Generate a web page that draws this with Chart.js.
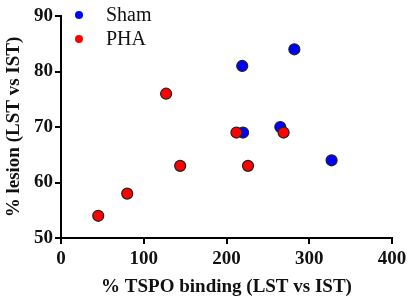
<!DOCTYPE html>
<html>
<head>
<meta charset="utf-8">
<script src="https://cdn.jsdelivr.net/npm/chart.js@4.4.1/dist/chart.umd.min.js"></script>
<style>
  body { margin: 0; background: #fff; }
</style>
</head>
<body>
<canvas id="myChart" width="413" height="303"></canvas>
<script>
// values
const seriesNames = ['Sham', 'PHA'];
const shamX = [219, 282, 220, 265, 327];
const shamY = [81, 84, 69, 70, 64];
const phaX = [45, 80, 144, 127, 212, 226, 269];
const phaY = [54, 58, 63, 76, 69, 63, 69];
const xTicks = [0, 100, 200, 300, 400];
const yTicks = [50, 60, 70, 80, 90];

const FACE = '"Liberation Serif"';
Chart.defaults.font.family = FACE;
Chart.defaults.color = '#111';

const toPoints = (xs, ys)=>{
    return xs.map((x, i)=>({ x: x, y: ys[i] }));
}

// legend drawn in the top-left corner of the plot area
const cornerLegend = {
    id: 'cornerLegend',
    afterDraw: (chart)=>{
        const c = chart.ctx;
        c.save();
        chart.data.datasets.forEach((ds, i)=>{
            const y = 15 + i * 24;
            c.beginPath();
            c.arc(79, y, 4, 0, Math.PI * 2);
            c.fillStyle = ds.backgroundColor;
            c.fill();
            c.fillStyle = '#111';
            c.font = 'normal 20px ' + FACE;
            c.textBaseline = 'middle';
            c.textAlign = 'left';
            c.fillText(ds.label, 106, y + 1);
        });
        c.restore();
    }
}

const axisFont = { family: FACE, size: 19, weight: 'bold' };

new Chart(document.getElementById('myChart'), {
    type: 'scatter',
    data: {
        datasets: [{
            label: seriesNames[0],
            data: toPoints(shamX, shamY),
            backgroundColor: '#0000ff',
            borderColor: '#222',
            borderWidth: 1.2,
            pointRadius: 5.5,
            order: 1
        }, {
            label: seriesNames[1],
            data: toPoints(phaX, phaY),
            backgroundColor: '#ff0000',
            borderColor: '#222',
            borderWidth: 1.2,
            pointRadius: 5.5,
            order: 0
        }]
    },
    options: {
        responsive: false,
        animation: false,
        layout: { padding: { top: 16, right: 21, left: 0, bottom: 0 } },
        plugins: {
            legend: { display: false },
            tooltip: { enabled: false }
        },
        scales: {
            x: {
                type: 'linear',
                min: xTicks[0],
                max: xTicks[xTicks.length - 1],
                afterBuildTicks: (scale)=>{ scale.ticks = xTicks.map(v=>({ value: v })); },
                afterFit: (scale)=>{ scale.height = 65; },
                grid: { drawOnChartArea: false, drawTicks: true, tickLength: 6, color: '#000', lineWidth: 2 },
                border: { color: '#000', width: 2 },
                ticks: { color: '#111', padding: 4, maxRotation: 0, font: axisFont },
                title: {
                    display: true,
                    text: '% TSPO binding (LST vs IST)',
                    color: '#111',
                    padding: { top: 0, bottom: 5 },
                    font: axisFont
                }
            },
            y: {
                type: 'linear',
                min: yTicks[0],
                max: yTicks[yTicks.length - 1],
                afterBuildTicks: (scale)=>{ scale.ticks = yTicks.map(v=>({ value: v })); },
                afterFit: (scale)=>{ scale.width = 61; },
                grid: { drawOnChartArea: false, drawTicks: true, tickLength: 6, color: '#000', lineWidth: 2 },
                border: { color: '#000', width: 2 },
                ticks: { color: '#111', padding: 2, font: axisFont },
                title: {
                    display: true,
                    text: '% lesion (LST vs IST)',
                    color: '#111',
                    padding: { top: 3, bottom: 0 },
                    font: axisFont
                }
            }
        }
    },
    plugins: [cornerLegend]
});
</script>
</body>
</html>
